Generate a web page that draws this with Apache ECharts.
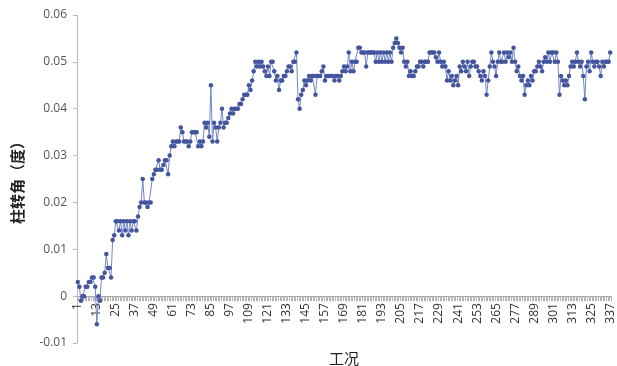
<!DOCTYPE html>
<html>
<head>
<meta charset="utf-8">
<script src="https://cdn.jsdelivr.net/npm/echarts@6/dist/echarts.min.js"></script>
<style>
  html, body { margin: 0; padding: 0; background: #fff; }
  #chart { width: 617px; height: 366px; }
</style>
</head>
<body>
<div id="chart"></div>
<script>
// 工况 1..337
const caseCount = 337;
const cases = [];
for (let i = 1; i <= caseCount; i++) cases.push(String(i));

// 柱转角（度）
const rotation = [
  0.003, 0.002, -0.001, 0, 0, 0.002, 0.002, 0.003, 0.003, 0.004,
  0.004, 0.002, -0.006, 0, -0.001, 0.004, 0.004, 0.005, 0.009, 0.006,
  0.006, 0.004, 0.012, 0.013, 0.016, 0.016, 0.014, 0.016, 0.013, 0.016,
  0.014, 0.016, 0.013, 0.016, 0.014, 0.016, 0.016, 0.014, 0.017, 0.019,
  0.020, 0.025, 0.020, 0.020, 0.019, 0.020, 0.020, 0.025, 0.026, 0.027,
  0.027, 0.029, 0.027, 0.027, 0.028, 0.029, 0.029, 0.026, 0.030, 0.032,
  0.033, 0.032, 0.033, 0.033, 0.033, 0.036, 0.035, 0.033, 0.033, 0.033,
  0.032, 0.033, 0.035, 0.035, 0.035, 0.035, 0.032, 0.033, 0.032, 0.033,
  0.037, 0.036, 0.037, 0.034, 0.045, 0.033, 0.037, 0.036, 0.033, 0.036,
  0.037, 0.040, 0.036, 0.037, 0.037, 0.038, 0.039, 0.040, 0.039, 0.040,
  0.040, 0.040, 0.041, 0.041, 0.042, 0.043, 0.043, 0.043, 0.045, 0.044,
  0.046, 0.048, 0.050, 0.049, 0.050, 0.049, 0.050, 0.049, 0.048, 0.047,
  0.049, 0.047, 0.050, 0.050, 0.048, 0.046, 0.047, 0.044, 0.046, 0.046,
  0.047, 0.047, 0.048, 0.049, 0.049, 0.048, 0.050, 0.050, 0.052, 0.042,
  0.040, 0.043, 0.044, 0.046, 0.045, 0.046, 0.047, 0.046, 0.047, 0.047,
  0.043, 0.047, 0.047, 0.047, 0.048, 0.049, 0.046, 0.047, 0.047, 0.047,
  0.047, 0.047, 0.046, 0.047, 0.047, 0.046, 0.047, 0.048, 0.049, 0.048,
  0.049, 0.052, 0.048, 0.050, 0.048, 0.050, 0.050, 0.053, 0.053, 0.052,
  0.052, 0.052, 0.049, 0.052, 0.052, 0.052, 0.052, 0.052, 0.050, 0.052,
  0.050, 0.052, 0.050, 0.052, 0.050, 0.052, 0.050, 0.052, 0.050, 0.053,
  0.054, 0.055, 0.054, 0.053, 0.052, 0.053, 0.050, 0.049, 0.050, 0.047,
  0.048, 0.047, 0.047, 0.048, 0.049, 0.049, 0.050, 0.050, 0.049, 0.050,
  0.050, 0.050, 0.052, 0.052, 0.052, 0.052, 0.051, 0.050, 0.052, 0.050,
  0.049, 0.050, 0.049, 0.046, 0.048, 0.046, 0.047, 0.045, 0.046, 0.047,
  0.045, 0.049, 0.048, 0.050, 0.049, 0.048, 0.050, 0.047, 0.049, 0.050,
  0.050, 0.049, 0.049, 0.048, 0.047, 0.046, 0.048, 0.047, 0.043, 0.046,
  0.049, 0.052, 0.050, 0.049, 0.047, 0.050, 0.052, 0.050, 0.050, 0.052,
  0.050, 0.052, 0.051, 0.052, 0.050, 0.053, 0.050, 0.048, 0.049, 0.047,
  0.046, 0.047, 0.043, 0.045, 0.046, 0.045, 0.047, 0.046, 0.048, 0.048,
  0.049, 0.050, 0.049, 0.048, 0.050, 0.051, 0.050, 0.052, 0.050, 0.052,
  0.052, 0.050, 0.052, 0.050, 0.043, 0.047, 0.046, 0.045, 0.046, 0.045,
  0.047, 0.049, 0.050, 0.049, 0.050, 0.052, 0.050, 0.049, 0.050, 0.047,
  0.042, 0.049, 0.050, 0.048, 0.052, 0.050, 0.049, 0.050, 0.050, 0.049,
  0.047, 0.050, 0.049, 0.050, 0.050, 0.050, 0.052
];

const yMin = -0.01;
const yMax = 0.06;
const yStep = 0.01;

// the x axis sits on y = 0, like the original; a second grid ends exactly there
const gridTop = 15;
const gridBottom = 23;
const plotHeight = 366 - gridTop - gridBottom;
const zeroFromBottom = gridBottom + plotHeight * (0 - yMin) / (yMax - yMin);

const chart = echarts.init(document.getElementById('chart'));
chart.setOption({
  animation: false,
  grid: [
    { left: 77, right: 6, top: gridTop, bottom: gridBottom, outerBoundsMode: 'none' },
    { left: 77, right: 6, top: gridTop, bottom: zeroFromBottom, outerBoundsMode: 'none' }
  ],
  xAxis: [
    {
      type: 'category',
      gridIndex: 0,
      data: cases,
      boundaryGap: true,
      show: false
    },
    {
      type: 'category',
      gridIndex: 1,
      data: cases,
      boundaryGap: true,
      name: '工况',
      nameLocation: 'middle',
      nameGap: 55,
      nameTextStyle: { fontFamily: 'Noto Sans CJK SC', fontSize: 15, color: '#222' },
      axisLine: { show: true, lineStyle: { color: '#a0a0a0', width: 1 } },
      axisTick: { show: true, interval: 0, length: 5, lineStyle: { color: '#b4b4b4', width: 1 } },
      axisLabel: {
        interval: 11,
        rotate: 90,
        margin: 7,
        fontFamily: 'Open Sans',
        fontSize: 12,
        color: '#333'
      },
      splitLine: { show: false }
    }
  ],
  yAxis: [
    {
      type: 'value',
      gridIndex: 0,
      min: yMin,
      max: yMax,
      interval: yStep,
      name: '柱转角（度）',
      nameLocation: 'middle',
      nameGap: 52,
      nameTextStyle: { fontFamily: 'Noto Sans CJK SC', fontSize: 15, fontWeight: 'bold', color: '#222' },
      axisLine: { show: true, lineStyle: { color: '#bbb' } },
      axisTick: { show: true, length: 4, lineStyle: { color: '#bbb' } },
      axisLabel: {
        fontFamily: 'Open Sans',
        fontSize: 12,
        color: '#555',
        margin: 10,
        formatter: (v) => String(Number(v.toFixed(2)))
      },
      splitLine: { show: false }
    },
    {
      type: 'value',
      gridIndex: 1,
      min: 0,
      max: 1,
      show: false
    }
  ],
  series: [
    {
      type: 'line',
      xAxisIndex: 0,
      yAxisIndex: 0,
      data: rotation,
      symbol: 'circle',
      symbolSize: 4.5,
      showAllSymbol: true,
      z: 3,
      itemStyle: { color: '#43559c' },
      lineStyle: { color: '#7284c6', width: 1 }
    }
  ]
});
</script>
</body>
</html>
